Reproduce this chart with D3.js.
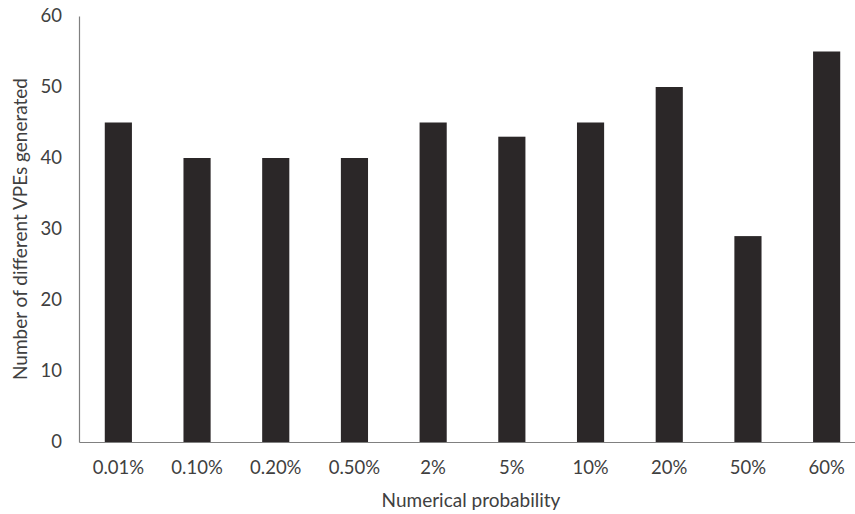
<!DOCTYPE html>
<html><head><meta charset="utf-8">
<script src="https://cdn.jsdelivr.net/npm/d3@7/dist/d3.min.js"></script>
<style>
body{margin:0;background:#fff;}
text{font-family:Lato,"Open Sans",sans-serif;}
</style></head>
<body><svg id="c" width="855" height="514"></svg>
<script>
const categories = ["0.01%","0.10%","0.20%","0.50%","2%","5%","10%","20%","50%","60%"];
const values = [45,40,40,40,45,43,45,50,29,55];
const yTicks = [0,10,20,30,40,50,60];

const svg = d3.select("#c");
const x = d3.scaleBand().domain(categories).range([79,866]).paddingInner(0.655).paddingOuter(0.3275);
const y = d3.scaleLinear().domain([0,60]).range([442,16]);

svg.append("g").selectAll("rect").data(values).join("rect")
  .attr("x",(d,i)=>x(categories[i]))
  .attr("width",x.bandwidth())
  .attr("y",d=>y(d))
  .attr("height",d=>y(0)-y(d))
  .attr("fill","#2b2728");

// axes
const ya = svg.append("g").attr("transform","translate(79,0)")
  .call(d3.axisLeft(y).tickValues(yTicks).tickSize(0).tickPadding(17));
ya.select(".domain").attr("stroke","#808080").attr("stroke-width",1.2);
ya.selectAll("text").attr("font-size",18.5).attr("fill","#404040").attr("font-family","Lato,sans-serif");

const xa = svg.append("g").attr("transform","translate(0,442)")
  .call(d3.axisBottom(x).tickSize(0).tickPadding(19));
xa.select(".domain").attr("stroke","#808080").attr("stroke-width",1.2);
xa.selectAll("text").attr("font-size",18.5).attr("fill","#404040").attr("font-family","Lato,sans-serif");

svg.append("text").attr("x",471).attr("y",502).attr("text-anchor","middle").attr("dominant-baseline","middle")
  .attr("font-size",19).attr("fill","#404040").text("Numerical probability");
svg.append("text").attr("transform","translate(22,229) rotate(-90)").attr("text-anchor","middle").attr("dominant-baseline","middle")
  .attr("font-size",19).attr("fill","#404040").text("Number of different VPEs generated");
</script></body></html>
